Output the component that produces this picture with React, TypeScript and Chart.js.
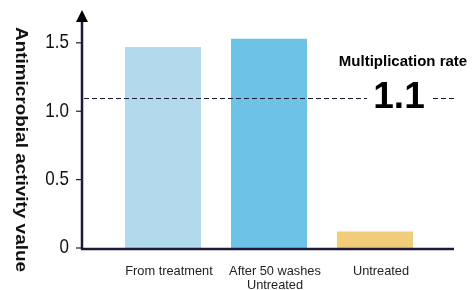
import React, { useEffect, useRef } from "react";
import { Chart, registerables } from "chart.js";

Chart.register(...registerables);

const categories: (string | string[])[] = ["From treatment", ["After 50 washes", "Untreated"], "Untreated"];
const activityValues: number[] = [1.47, 1.53, 0.12];
const barColors: string[] = ["#b3d9ec", "#6cc3e6", "#f2cc7a"];
const yTickValues: number[] = [0, 0.5, 1.0, 1.5];
const yTickLabels: string[] = ["0", "0.5", "1.0", "1.5"];
const multiplicationRate = 1.1;
const rateTitle = "Multiplication rate";
const yTitle = "Antimicrobial activity value";

const FONT = "'Liberation Sans', Arial, Helvetica, sans-serif";
const AXIS_COLOR = "#1c1a38";

const customAxes = {
  id: "customAxes",
  afterDatasetsDraw(chart: any) {
    const ctx = chart.ctx as CanvasRenderingContext2D;
    const y = chart.scales.y;
    const x = chart.scales.x;
    const area = chart.chartArea;
    const axisX = 82;
    const zeroY = y.getPixelForValue(0);
    ctx.save();

    // dashed reference line
    const rateY = Math.round(y.getPixelForValue(multiplicationRate)) + 0.5;
    ctx.strokeStyle = AXIS_COLOR;
    ctx.lineWidth = 1;
    ctx.setLineDash([5, 3]);
    ctx.beginPath();
    ctx.moveTo(axisX + 2, rateY);
    ctx.lineTo(367, rateY);
    ctx.moveTo(433, rateY);
    ctx.lineTo(454, rateY);
    ctx.stroke();
    ctx.setLineDash([]);

    // y axis line
    ctx.lineWidth = 2.5;
    ctx.strokeStyle = AXIS_COLOR;
    ctx.beginPath();
    ctx.moveTo(axisX, zeroY + 1.5);
    ctx.lineTo(axisX, area.top + 8);
    ctx.stroke();

    // arrow head
    ctx.fillStyle = "#000";
    ctx.beginPath();
    ctx.moveTo(axisX, area.top);
    ctx.lineTo(axisX - 6, area.top + 12);
    ctx.lineTo(axisX + 6, area.top + 12);
    ctx.closePath();
    ctx.fill();

    // x axis line
    ctx.lineWidth = 2.5;
    ctx.beginPath();
    ctx.moveTo(axisX - 1, zeroY + 1);
    ctx.lineTo(454, zeroY + 1);
    ctx.stroke();

    // x category labels
    ctx.font = `12.8px ${FONT}`;
    ctx.fillStyle = "#222";
    ctx.textAlign = "center";
    ctx.textBaseline = "middle";
    categories.forEach((lab, i) => {
      const px = x.getPixelForValue(i) + 6;
      const lines = Array.isArray(lab) ? lab : [lab];
      lines.forEach((ln, j) => {
        ctx.fillText(ln, px, zeroY + 23.5 + j * 13.5);
      });
    });

    // y ticks and labels
    ctx.lineWidth = 1.2;
    ctx.strokeStyle = AXIS_COLOR;
    ctx.font = `17px ${FONT}`;
    ctx.fillStyle = "#111";
    ctx.textAlign = "right";
    ctx.textBaseline = "middle";
    yTickValues.forEach((v, i) => {
      const py = y.getPixelForValue(v);
      ctx.beginPath();
      ctx.moveTo(axisX - 6, py);
      ctx.lineTo(axisX, py);
      ctx.stroke();
      ctx.save();
      ctx.translate(69, py);
      ctx.scale(1, 1.15);
      ctx.fillText(yTickLabels[i], 0, 0);
      ctx.restore();
    });

    // y title (rotated)
    ctx.save();
    ctx.font = `bold 16px ${FONT}`;
    ctx.fillStyle = "#111";
    ctx.translate(20, 149.5);
    ctx.rotate(Math.PI / 2);
    const w = ctx.measureText(yTitle).width;
    ctx.scale(245 / w, 1);
    ctx.textAlign = "center";
    ctx.textBaseline = "middle";
    ctx.fillText(yTitle, 0, 0);
    ctx.restore();

    // annotation
    ctx.fillStyle = "#000";
    ctx.textAlign = "center";
    ctx.textBaseline = "alphabetic";
    ctx.font = `bold 15px ${FONT}`;
    ctx.fillText(rateTitle, 403, 66);
    ctx.font = `bold 37px ${FONT}`;
    ctx.fillText(multiplicationRate.toFixed(1), 399, 108);

    ctx.restore();
  },
};

export default function App() {
  const ref = useRef<HTMLCanvasElement | null>(null);

  useEffect(() => {
    if (!ref.current) return;
    const chart = new Chart(ref.current, {
      type: "bar",
      data: {
        labels: categories,
        datasets: [
          {
            data: activityValues,
            backgroundColor: barColors,
            borderWidth: 0,
            barPercentage: 0.717,
            categoryPercentage: 1,
          },
        ],
      },
      options: {
        responsive: false,
        animation: false,
        devicePixelRatio: 1,
        layout: { padding: { left: 110, right: 44, top: 10, bottom: 0 } },
        plugins: {
          legend: { display: false },
          tooltip: { enabled: false },
        },
        scales: {
          x: {
            grid: { display: false },
            border: { display: false },
            ticks: { display: false },
            afterFit(scale: any) {
              scale.height = 42;
            },
          },
          y: {
            display: false,
            min: 0,
            max: 1.74,
          },
        },
      },
      plugins: [customAxes],
    });
    return () => chart.destroy();
  }, []);

  return (
    <div style={{ position: "absolute", left: 0, top: 0, width: 472, height: 290, background: "#fff" }}>
      <canvas ref={ref} width={472} height={290} />
    </div>
  );
}
